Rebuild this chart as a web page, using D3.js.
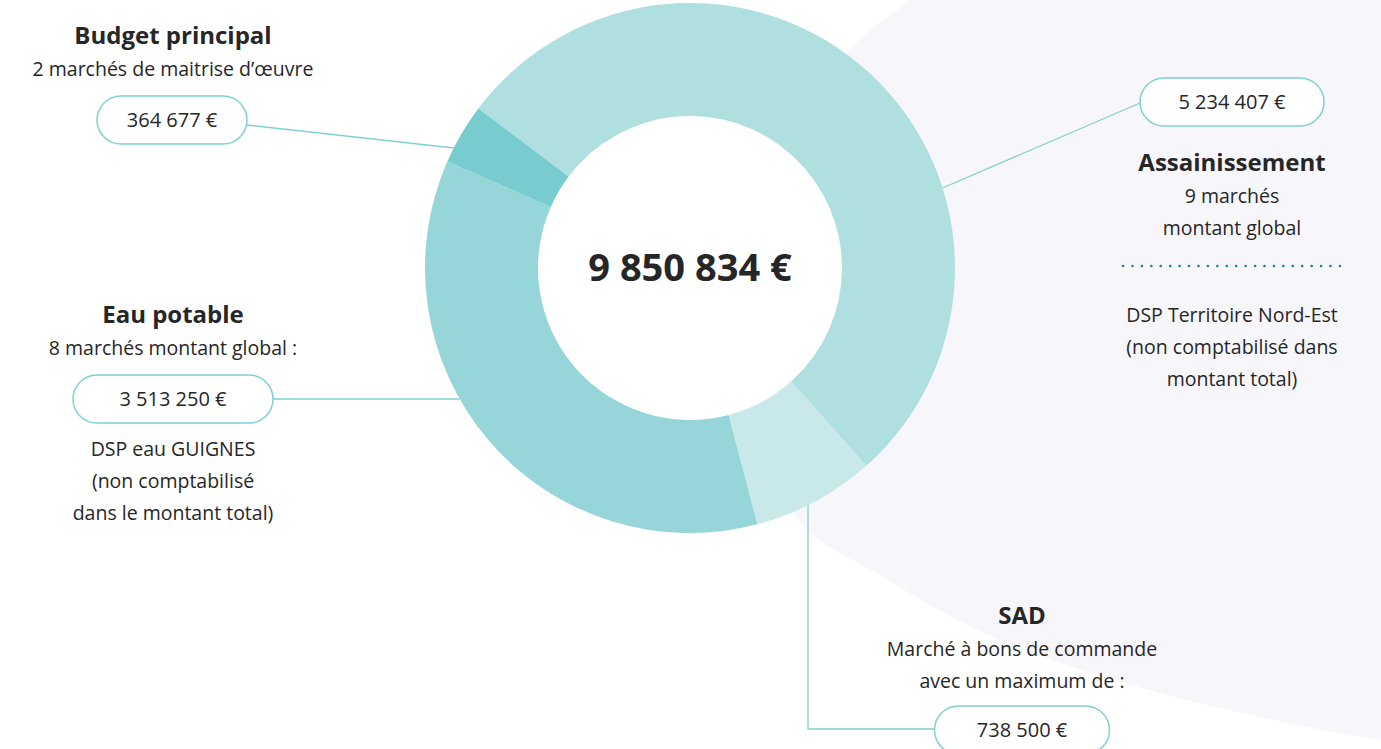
<!DOCTYPE html>
<html>
<head>
    <meta charset="utf-8">
    <title>Marchés</title>
    <script src="https://cdn.jsdelivr.net/npm/d3@7"></script>
    <style>
        body { margin: 0; background: #ffffff; }
        text { font-family: "Open Sans", sans-serif; fill: #262626; }
    </style>
</head>
<body>
    <svg width="1381" height="749" id="mainsvg"></svg>
    <script>
        // data
        const categories = ['Assainissement', 'SAD', 'Eau potable', 'Budget principal'];
        const amounts = [5234407, 738500, 3513250, 364677];
        const sliceColors = ['#b0dfe0', '#c8e8ea', '#96d6d8', '#78cccf'];
        const subLines = [
            ['9 marchés', 'montant global'],
            ['Marché à bons de commande', 'avec un maximum de :'],
            ['8 marchés montant global :'],
            ['2 marchés de maitrise d’œuvre']
        ];
        const noteLines = [
            ['DSP Territoire Nord-Est', '(non comptabilisé dans', 'montant total)'],
            [],
            ['DSP eau GUIGNES', '(non comptabilisé', 'dans le montant total)'],
            []
        ];

        const svg = d3.select('#mainsvg');
        const cx = 690, cy = 268;
        const outerR = 265, innerR = 152;
        const teal = '#80d0d3';
        const bodySize = 19.5;

        const fr = d3.formatLocale({ decimal: ',', thousands: '\u00a0', grouping: [3] });
        const euro = v => fr.format(',d')(v) + ' €';

        // soft lavender backdrop on the right
        const backdrop = [[990, -60], [910, 0], [843, 58], [790, 180], [768, 330], [795, 515],
            [880, 575], [993, 637], [1160, 693], [1381, 740], [1500, 752]];
        svg.append('path')
            .attr('d', d3.line().curve(d3.curveCatmullRom)(backdrop) + 'L1500,-60Z')
            .attr('fill', '#f7f6fb');

        const pie = d3.pie().sort(null)
            .startAngle(-53 * Math.PI / 180)
            .endAngle(307 * Math.PI / 180);
        const arcs = pie(amounts);
        const arc = d3.arc().innerRadius(innerR).outerRadius(outerR);

        const g = svg.append('g').attr('transform', `translate(${cx},${cy})`);
        g.append('circle').attr('r', innerR).attr('fill', '#ffffff');
        g.selectAll('path.slice').data(arcs).join('path')
            .attr('class', 'slice')
            .attr('d', arc)
            .attr('fill', (d, i) => sliceColors[i]);

        g.append('text')
            .attr('text-anchor', 'middle')
            .attr('y', 13)
            .attr('font-size', 38)
            .attr('font-weight', 700)
            .text(euro(d3.sum(amounts)));

        // point on the outer rim for a given y (side -1 left / +1 right) or x (below)
        const rimAtY = (y, side) => [cx + side * Math.sqrt(outerR * outerR - (y - cy) * (y - cy)), y];
        const rimAtX = x => [x, cy + Math.sqrt(outerR * outerR - (x - cx) * (x - cx))];

        // label blocks: pill centre, pill width, title position, leader path
        const blocks = [
            { pill: [1232, 102], w: 184, title: [1232, 171], leader: [[1140, 103], rimAtY(188, 1)] },
            { pill: [1022, 730], w: 175, title: [1022, 624], leader: [[935, 729], [808, 729], rimAtX(808)] },
            { pill: [173, 399], w: 200, title: [173, 323], leader: [[273, 399], rimAtY(399, -1)] },
            { pill: [172, 120], w: 150, title: [173, 44], leader: [[247, 125], rimAtY(148, -1)] }
        ];

        blocks.forEach((b, i) => {
            svg.append('path')
                .attr('d', d3.line()(b.leader))
                .attr('fill', 'none')
                .attr('stroke', teal)
                .attr('stroke-width', 1.3);

            svg.append('rect')
                .attr('x', b.pill[0] - b.w / 2)
                .attr('y', b.pill[1] - 24)
                .attr('width', b.w)
                .attr('height', 48)
                .attr('rx', 24)
                .attr('fill', '#ffffff')
                .attr('stroke', teal)
                .attr('stroke-width', 1.5);

            svg.append('text')
                .attr('x', b.pill[0])
                .attr('y', b.pill[1] + 7)
                .attr('text-anchor', 'middle')
                .attr('font-size', 20)
                .text(euro(amounts[i]));

            svg.append('text')
                .attr('x', b.title[0])
                .attr('y', b.title[1])
                .attr('text-anchor', 'middle')
                .attr('font-size', 24)
                .attr('font-weight', 700)
                .text(categories[i]);

            subLines[i].forEach((s, j) => {
                svg.append('text')
                    .attr('x', b.title[0])
                    .attr('y', b.title[1] + 32 * (j + 1))
                    .attr('text-anchor', 'middle')
                    .attr('font-size', bodySize)
                    .text(s);
            });
        });

        // notes
        const notePos = [[1232, 322], null, [173, 456], null];
        noteLines.forEach((lines, i) => {
            lines.forEach((s, j) => {
                svg.append('text')
                    .attr('x', notePos[i][0])
                    .attr('y', notePos[i][1] + 32 * j)
                    .attr('text-anchor', 'middle')
                    .attr('font-size', bodySize)
                    .text(s);
            });
        });

        // dotted separator
        svg.append('line')
            .attr('x1', 1123).attr('x2', 1344)
            .attr('y1', 266).attr('y2', 266)
            .attr('stroke', '#24858b')
            .attr('stroke-width', 2.6)
            .attr('stroke-linecap', 'round')
            .attr('stroke-dasharray', '0.1 9.33');
    </script>
</body>
</html>
